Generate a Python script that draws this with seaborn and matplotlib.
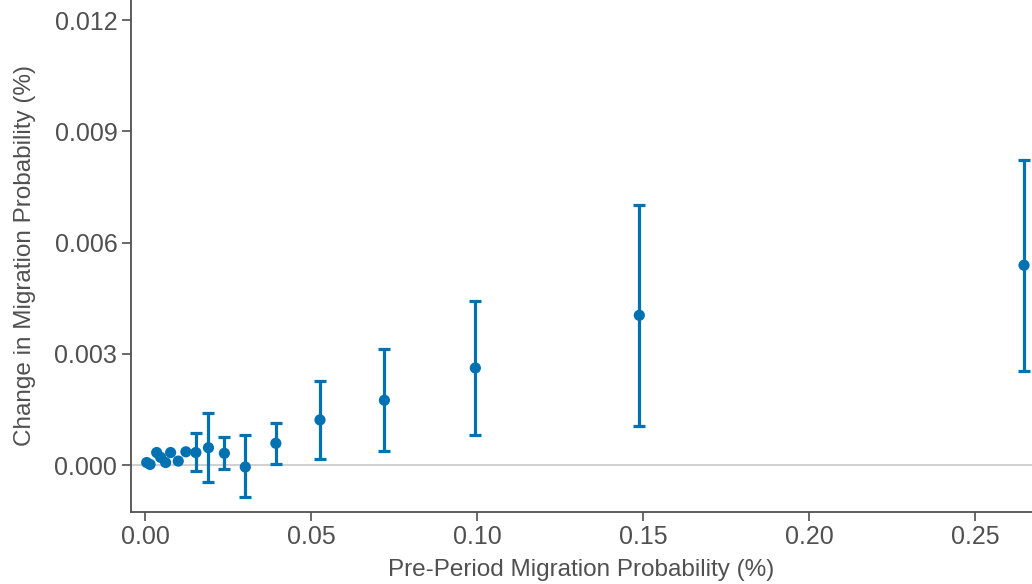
import numpy as np
import pandas as pd
import matplotlib
matplotlib.use("Agg")
import matplotlib.pyplot as plt
import seaborn as sns

# values
pre_prob = [0.0005, 0.0015, 0.0035, 0.0047, 0.0062, 0.0077, 0.0100, 0.0123,
            0.0153, 0.0191, 0.0239, 0.0302, 0.0394, 0.0527, 0.0721, 0.0995,
            0.1489, 0.2648]
change = [0.00007, 0.00002, 0.00034, 0.00021, 0.00007, 0.00034, 0.00011, 0.00036,
          0.00034, 0.00047, 0.00032, -0.00005, 0.00059, 0.00122, 0.00175, 0.00262,
          0.00404, 0.00539]
ci_low = [0.00007, 0.00002, 0.00034, 0.00021, 0.00007, 0.00034, 0.00011, 0.00036,
          -0.00016, -0.00045, -0.00011, -0.00086, 0.00004, 0.00017, 0.00038, 0.00081,
          0.00106, 0.00254]
ci_high = [0.00007, 0.00002, 0.00034, 0.00021, 0.00007, 0.00034, 0.00011, 0.00036,
           0.00086, 0.00141, 0.00076, 0.00080, 0.00115, 0.00227, 0.00312, 0.00443,
           0.00701, 0.00824]

df = pd.DataFrame({"pre": pre_prob, "change": change, "lo": ci_low, "hi": ci_high})

sns.set_style("ticks")
plt.rcParams["font.family"] = ["Liberation Sans", "DejaVu Sans"]

blue = "#0072B2"
grey = "#505050"

fig = plt.figure(figsize=(10.32, 5.84), dpi=100)
ax = fig.add_axes([0.1265, 0.1241, 0.8735, 0.8759])

ax.axhline(0, color="#c8c8c8", lw=1.2, zorder=0)

# error bars only where the interval is wider than the marker
wide = df[df["hi"] > df["lo"]]
ax.errorbar(wide["pre"], wide["change"],
            yerr=[wide["change"] - wide["lo"], wide["hi"] - wide["change"]],
            fmt="none", ecolor=blue, elinewidth=2.3, capsize=4.2, capthick=2.3, zorder=2)

sns.scatterplot(data=df, x="pre", y="change", color=blue, s=65, edgecolor="none",
                zorder=3, ax=ax)

ax.set_xlim(-0.00437, 0.2672)
ax.set_ylim(-0.00125, 0.01254)
ax.set_xticks([0.0, 0.05, 0.10, 0.15, 0.20, 0.25])
ax.set_xticklabels(["0.00", "0.05", "0.10", "0.15", "0.20", "0.25"])
ax.set_yticks([0.0, 0.003, 0.006, 0.009, 0.012])
ax.set_yticklabels(["0.000", "0.003", "0.006", "0.009", "0.012"])

ax.set_xlabel("Pre-Period Migration Probability (%)", fontsize=17.5, color=grey, labelpad=7.5)
ax.set_ylabel("Change in Migration Probability (%)", fontsize=17.5, color=grey, labelpad=13)

ax.tick_params(axis="both", labelsize=18, labelcolor=grey, color=grey,
               length=6.5, width=1.2, pad=3)
for side in ["left", "bottom"]:
    ax.spines[side].set_color(grey)
    ax.spines[side].set_linewidth(1.3)
sns.despine(ax=ax)

fig.savefig("out.png", dpi=100)
plt.close(fig)
